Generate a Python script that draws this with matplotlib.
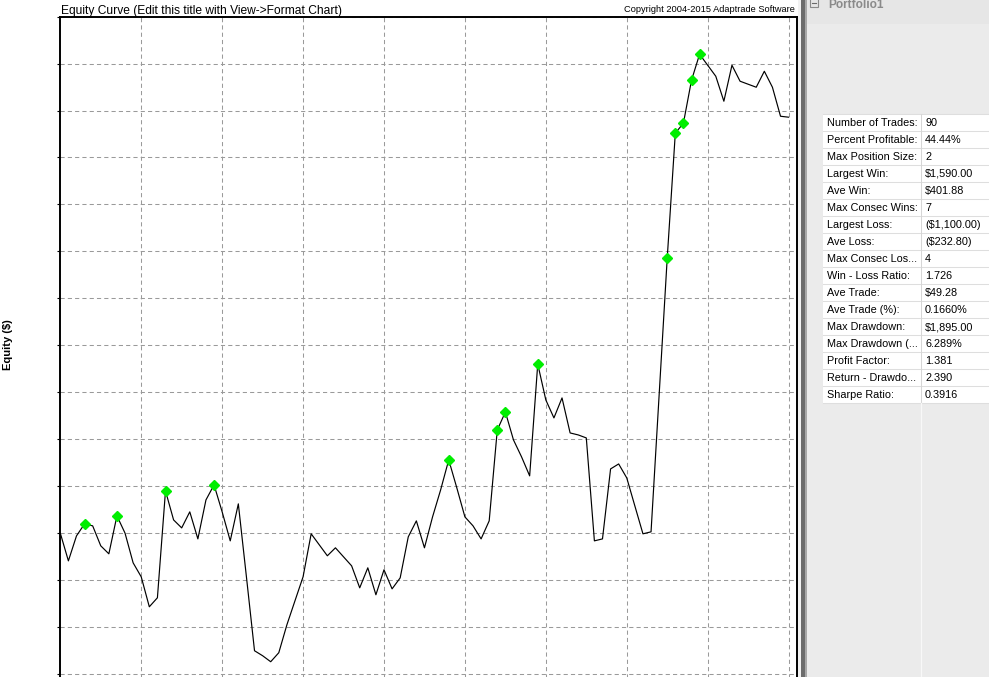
import numpy as np
import matplotlib
matplotlib.use("Agg")
import matplotlib.pyplot as plt
from matplotlib.patches import Rectangle
from matplotlib.lines import Line2D

# ---------------- data ----------------
equity = [30000, 29705, 29971, 30099, 30078, 29865, 29780, 30184, 30000, 29684,
          29535, 29216, 29312, 30450, 30141, 30056, 30227, 29939, 30354, 30514,
          30227, 29918, 30312, 29535, 28748, 28695, 28631, 28727, 29024, 29280,
          29535, 29993, 29876, 29759, 29844, 29748, 29652, 29418, 29631, 29344,
          29610, 29407, 29524, 29961, 30131, 29844, 30173, 30461, 30780, 30482,
          30173, 30078, 29939, 30131, 31099, 31290, 30993, 30812, 30610, 31801,
          31418, 31227, 31440, 31067, 31046, 31014, 29918, 29939, 30684, 30737,
          30588, 30290, 29993, 30014, 31471, 32929, 34259, 34365, 34822, 35099,
          34982, 34865, 34599, 34982, 34812, 34780, 34748, 34918, 34748, 34439,
          34429]
new_high_trades = [3, 7, 13, 19, 48, 54, 55, 59, 75, 76, 77, 78, 79]
x_ticks = [10, 20, 30, 40, 50, 60, 70, 80, 90]
y_ticks = [28000, 28500, 29000, 29500, 30000, 30500, 31000, 31500, 32000,
           32500, 33000, 33500, 34000, 34500, 35000, 35500]

stat_labels = ["Number of Trades:", "Percent Profitable:", "Max Position Size:",
               "Largest Win:", "Ave Win:", "Max Consec Wins:", "Largest Loss:",
               "Ave Loss:", "Max Consec Los...", "Win - Loss Ratio:", "Ave Trade:",
               "Ave Trade (%):", "Max Drawdown:", "Max Drawdown (...",
               "Profit Factor:", "Return - Drawdo...", "Sharpe Ratio:"]
stat_values = ["90", "44.44%", "2", "$1,590.00", "$401.88", "7", "($1,100.00)",
               "($232.80)", "4", "1.726", "$49.28", "0.1660%", "$1,895.00",
               "6.289%", "1.381", "2.390", "0.3916"]

title = "Equity Curve (Edit this title with View->Format Chart)"
copyright_text = "Copyright 2004-2015 Adaptrade Software"
ylabel = "Equity ($)"
panel_title = "Portfolio1"

# ---------------- layout ----------------
W, H = 989, 677
DPI = 100
plt.rcParams['font.family'] = ['Liberation Sans', 'DejaVu Sans']
fig = plt.figure(figsize=(W / DPI, H / DPI), dpi=DPI, facecolor='white')

def fx(px):
    return px / W

def fy(py):
    return 1 - py / H

ax_left, ax_right, ax_top, ax_bottom = 60.3, 796.7, 16.6, 721.0
ax = fig.add_axes([fx(ax_left), fy(ax_bottom), fx(ax_right - ax_left),
                   (ax_bottom - ax_top) / H])
ax.set_facecolor('white')

trades = np.arange(len(equity))
ax.plot(trades, equity, color='black', lw=0.85, zorder=3)
ax.plot(new_high_trades, [equity[i] for i in new_high_trades], linestyle='none',
        marker='D', markersize=4.6, color='#00ee00', markeredgecolor='#00ee00',
        zorder=4)

ax.set_xlim(0, 91)
ax.set_ylim(28000, 35500)
ax.set_xticks(x_ticks)
ax.set_yticks(y_ticks)
ax.set_xticklabels([])
ax.set_yticklabels([])
ax.tick_params(axis='y', direction='out', length=2.5, width=0.8, color='black')
ax.tick_params(axis='x', length=0)
ax.grid(True, color='#9a9a9a', linestyle=(0, (4, 3)), linewidth=0.75)
ax.set_axisbelow(True)
for s in ['left', 'top', 'right', 'bottom']:
    ax.spines[s].set_linewidth(1.4)
    ax.spines[s].set_color('black')

fig.text(fx(61), fy(13.6), title, fontsize=8.65, ha='left', va='baseline',
         color='black', parse_math=False)
fig.text(fx(795), fy(12.5), copyright_text, fontsize=6.7, ha='right',
         va='baseline', color='black', parse_math=False)
fig.text(fx(8.5), fy(345), ylabel, fontsize=8.0, fontweight='bold',
         rotation=90, ha='center', va='center', parse_math=False)

# ---------------- right panel ----------------
ov = fig.add_axes([0, 0, 1, 1], facecolor='none')
ov.set_xlim(0, W)
ov.set_ylim(H, 0)
ov.axis('off')

ov.add_patch(Rectangle((797.5, 0), 3, H, facecolor='#f2f2f2', edgecolor='none'))
ov.add_patch(Rectangle((800.5, 0), 4, H, facecolor='#6c6c6c', edgecolor='none'))
ov.add_patch(Rectangle((804.5, 0), 2, H, facecolor='#a8a8a8', edgecolor='none'))
ov.add_patch(Rectangle((806.5, 0), W - 806.5, H, facecolor='#ebebeb',
                       edgecolor='none'))
ov.add_patch(Rectangle((806.5, 0), W - 806.5, 24, facecolor='#e6e6e6',
                       edgecolor='none'))
# collapse box icon
ov.add_patch(Rectangle((809.5, -2), 8, 9, facecolor='none', edgecolor='#8a8a8a',
                       lw=0.8))
ov.add_line(Line2D([811.5, 815.5], [2.5, 2.5], color='#6a6a6a', lw=0.8))
ov.text(828, 7.5, panel_title, fontsize=8.6, fontweight='bold', color='#8a8a8a',
        ha='left', va='baseline', parse_math=False)

row_h = 17.0
tbl_top = 114.0
n = len(stat_labels)
ov.add_patch(Rectangle((822.5, tbl_top), W - 822.5, row_h * n,
                       facecolor='white', edgecolor='none'))
for k in range(n + 1):
    yy = tbl_top + k * row_h
    ov.add_line(Line2D([822.5, W], [yy, yy], color='#dedede', lw=0.75))
ov.add_line(Line2D([920.5, 920.5], [tbl_top, tbl_top + row_h * n],
                   color='#d6d6d6', lw=0.75))
ov.add_line(Line2D([920.5, 920.5], [tbl_top + row_h * n, H],
                   color='#f8f8f8', lw=0.9))
for k, (lab, val) in enumerate(zip(stat_labels, stat_values)):
    yc = tbl_top + k * row_h + row_h / 2 + 0.5
    ov.text(827, yc, lab, fontsize=7.8, ha='left', va='center', color='black',
            parse_math=False)
    ov.text(925, yc, val, fontsize=7.8, ha='left', va='center', color='black',
            parse_math=False)

fig.savefig('out.png', dpi=DPI, facecolor='white')
